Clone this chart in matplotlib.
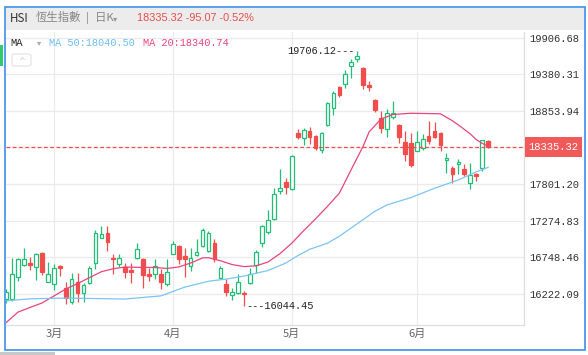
import matplotlib
matplotlib.use("Agg")
import matplotlib.pyplot as plt
from matplotlib.patches import Rectangle, FancyBboxPatch
from matplotlib.transforms import blended_transform_factory

# HSI daily candles, 2024-02-20 .. 2024-06-20
dates = (
    ["2024-02-%02d" % d for d in [20, 21, 22, 23, 26, 27, 28, 29]]
    + ["2024-03-%02d" % d for d in [1, 4, 5, 6, 7, 8, 11, 12, 13, 14, 15, 18, 19, 20, 21, 22, 25, 26, 27, 28]]
    + ["2024-04-%02d" % d for d in [2, 3, 5, 8, 9, 10, 11, 12, 15, 16, 17, 18, 19, 22, 23, 24, 25, 26, 29, 30]]
    + ["2024-05-%02d" % d for d in [2, 3, 6, 7, 8, 9, 10, 13, 14, 16, 17, 20, 21, 22, 23, 24, 27, 28, 29, 30, 31]]
    + ["2024-06-%02d" % d for d in [3, 4, 5, 6, 7, 11, 12, 13, 14, 17, 18, 19, 20]]
)
opens = [16150, 16151, 16468, 16640, 16669, 16611, 16813, 16396,
         16367, 16626, 16309, 16108, 16396, 16237, 16381, 16669, 17029, 17100, 16741, 16655,
         16611, 16565, 16741, 16727, 16511, 16511, 16511, 16367,
         16799, 16914, 16770, 16626, 16784, 16914, 16842, 16957, 16453, 16367,
         16208, 16237, 16240, 16381, 16640, 16957, 17115, 17302, 17705, 17835,
         17734, 18539, 18468, 18568, 18496, 18295, 18655, 18899, 19202, 19245, 19504,
         19605, 19475, 19230, 19014, 18755, 18597, 18770, 18655, 18410, 18396,
         18281, 18324, 18496, 18568, 18539, 18140, 18036, 18094, 18022, 17820, 17950, 18036, 18424]
highs = [16290, 16741, 16741, 16885, 16755, 16813, 16827, 16684,
         16655, 16640, 16396, 16525, 16525, 16381, 16626, 17143, 17201, 17201, 16799, 16799,
         16669, 16669, 16957, 16741, 16597, 16727, 16583, 16727,
         16986, 16928, 16885, 16885, 17014, 17172, 17129, 17014, 16626, 16439,
         16309, 16511, 16260, 16597, 16850, 17215, 17431, 17748, 18022, 17892,
         18220, 18597, 18600, 18626, 18510, 18550, 18986, 19144, 19216, 19446, 19604,
         19706.12, 19489, 19288, 19029, 18856, 18885, 18999, 18669, 18560, 18540,
         18568, 18525, 18712, 18698, 18554, 18252, 18065, 18166, 18094, 18108, 17964, 18439, 18439]
lows = [16090, 16122, 16410, 16626, 16569, 16424, 16496, 16390,
        16280, 16482, 16079, 16079, 16108, 16108, 16367, 16583, 17020, 16842, 16511, 16611,
        16453, 16381, 16727, 16309, 16410, 16439, 16295, 16338,
        16790, 16655, 16467, 16553, 16770, 16900, 16830, 16683, 16439, 16194,
        16137, 16223, 16044.45, 16370, 16525, 16899, 17086, 17290, 17662, 17662,
        17720, 18453, 18367, 18381, 18295, 18252, 18640, 18799, 19058, 19187, 19331,
        19561, 19173, 19144, 18842, 18540, 18482, 18741, 18396, 18137, 18050,
        18270, 18295, 18381, 18460, 18281, 17964, 17820, 17950, 17921, 17734, 17849, 17993, 18324]
closes = [16247.51, 16503.10, 16720.00, 16725.86, 16634.74, 16790.80, 16536.85, 16511.44,
          16589.44, 16595.97, 16162.64, 16438.09, 16229.78, 16353.39, 16587.56, 17093.50, 17082.11,
          16961.72, 16720.89, 16737.12, 16529.48, 16543.07, 16863.10, 16499.47, 16473.64, 16618.32,
          16392.84, 16541.42,
          16931.52, 16725.10, 16723.92, 16732.85, 16828.93, 17139.17, 17095.03, 16721.69, 16600.46,
          16248.97, 16251.84, 16385.87, 16224.45, 16511.69, 16828.93, 17201.27, 17284.54, 17651.15,
          17746.91, 17763.03,
          18207.13, 18475.92, 18578.30, 18479.37, 18313.86, 18537.81, 18963.68, 19115.06, 19073.71,
          19376.53, 19553.61, 19636.22, 19220.62, 19195.60, 18868.71, 18608.94, 18827.35, 18821.16,
          18477.01, 18230.19, 18079.61,
          18403.04, 18444.11, 18424.96, 18475.38, 18366.95, 18176.34, 17937.84, 18112.63, 17941.78,
          17936.12, 17915.55, 18430.39, 18335.32]

# moving averages (candle index -> value)
ma20_idx = [0, 2, 4, 6, 8, 10, 12, 14, 16, 18, 20, 22, 25, 27, 29, 31, 33, 34, 36, 38, 40, 42,
            44, 46, 48, 50, 52, 54, 56, 58, 60, 61, 63, 65, 68, 73, 75, 76, 78, 79, 80, 81]
ma20_val = [15810, 15960, 16026, 16090, 16190, 16290, 16370, 16455, 16540, 16583, 16608, 16603,
            16601, 16587, 16608, 16665, 16738, 16741, 16698, 16642, 16614, 16624, 16680, 16799,
            16950, 17130, 17300, 17480, 17670, 18010, 18345, 18550, 18735, 18800, 18818, 18810,
            18710, 18650, 18521, 18440, 18386, 18340.74]
ma50_idx = [0, 4, 10, 20, 24, 26, 28, 30, 34, 37, 40, 44, 47, 49, 51, 54, 56, 62, 64, 68, 72,
            76, 79, 81]
ma50_val = [16122, 16150, 16161, 16147, 16178, 16192, 16256, 16318, 16403, 16434, 16478, 16557,
            16665, 16770, 16862, 16950, 17050, 17410, 17500, 17605, 17740, 17860, 17975, 18040.50]

ytick_vals = [16222.09, 16748.46, 17274.83, 17801.20, 18327.57, 18853.94, 19380.31, 19906.68]
ytick_labels = ["16222.09", "16748.46", "17274.83", "17801.20", "", "18853.94", "19380.31", "19906.68"]

GREEN = "#1fbf75"
RED = "#f24d4d"
MA20_C = "#e8457c"
MA50_C = "#7cc4f4"
GRID = "#ebebeb"
CJK = ["Noto Sans CJK TC", "DejaVu Sans"]
MONO = "Liberation Mono"

W, H = 588, 355
fig = plt.figure(figsize=(W / 100, H / 100), dpi=100)
fig.patch.set_facecolor("white")


def fx(x):
    return x / W


def fy(y):
    return 1 - y / H


# header band and blue frame
fig.patches.append(Rectangle((fx(6), fy(30)), fx(578), 22 / H, transform=fig.transFigure,
                             facecolor="#ececec", edgecolor="none", zorder=0))
fig.patches.append(Rectangle((fx(5), fy(350)), fx(580), 343 / H, transform=fig.transFigure,
                             fill=False, edgecolor="#3d8fe6", linewidth=1.2, zorder=10))
fig.patches.append(Rectangle((0, fy(66)), fx(3), 21 / H, transform=fig.transFigure,
                             facecolor="#2ecc71", edgecolor="none"))
fig.patches.append(Rectangle((0, 0), fx(55), 3 / H, transform=fig.transFigure,
                             facecolor="#c8c8c8", edgecolor="none"))

ax = fig.add_axes([fx(6), fy(325), fx(518), 293 / H])
ax.set_facecolor("white")

n = len(closes)
xs = list(range(n))
up = [c >= o for o, c in zip(opens, closes)]

for i in xs:
    col = GREEN if up[i] else RED
    ax.vlines(i, lows[i], highs[i], color=col, linewidth=0.9, zorder=2)
    lo, hi = min(opens[i], closes[i]), max(opens[i], closes[i])
    hgt = max(hi - lo, 12)
    ax.bar(i, hgt, bottom=lo, width=0.62, facecolor="white" if up[i] else RED,
           edgecolor=col, linewidth=0.9, zorder=3)

ax.plot(ma20_idx, ma20_val, color=MA20_C, linewidth=0.9, zorder=4)
ax.plot(ma50_idx, ma50_val, color=MA50_C, linewidth=0.9, zorder=4)

last = closes[-1]
ax.axhline(last, color=RED, linewidth=0.9, linestyle=(0, (3, 2)), zorder=5)

ymin, ymax = 15774, 19986
ax.set_xlim(-0.034, 87.03)
ax.set_ylim(ymin, ymax)
upp = (ymax - ymin) / 293.0  # price units per pixel

# month ticks
month_pos, month_lab = [], []
for i in range(1, n):
    if dates[i][5:7] != dates[i - 1][5:7]:
        month_pos.append(i)
        month_lab.append("%d月" % int(dates[i][5:7]))
ax.set_xticks(month_pos)
ax.set_xticklabels(month_lab, family=CJK, fontsize=8, color="#666666")
ax.set_yticks(ytick_vals)
ax.set_yticklabels(ytick_labels, family=MONO, fontsize=7.6, color="#333333")
ax.yaxis.tick_right()
ax.tick_params(axis="both", length=0)
ax.tick_params(axis="y", pad=4)
ax.tick_params(axis="x", pad=2.5)
ax.grid(True, color=GRID, linewidth=0.9)
ax.set_axisbelow(True)
for s in ["left", "top"]:
    ax.spines[s].set_visible(False)
for s in ["right", "bottom"]:
    ax.spines[s].set_color("#dedede")
    ax.spines[s].set_linewidth(0.9)

# price tag on the right axis
bt = blended_transform_factory(ax.transAxes, ax.transData)
ax.add_patch(Rectangle((1 + 1 / 518, last - 10 * upp), 57 / 518, 20 * upp, transform=bt,
                       facecolor="#f25a5a", edgecolor="none", clip_on=False, zorder=6))
ax.text(1 + 4 / 518, last, "%.2f" % last, transform=bt, family=MONO, fontsize=7.6,
        color="white", va="center", ha="left", zorder=7)

# high / low markers
i_hi = highs.index(max(highs))
i_lo = lows.index(min(lows))
ax.text(i_hi - 0.5, highs[i_hi], "%.2f---" % highs[i_hi], family=MONO, fontsize=7.4,
        color="#222222", va="center", ha="right", zorder=7)
ax.text(i_lo + 0.4, lows[i_lo], "---%.2f" % lows[i_lo], family=MONO, fontsize=7.4,
        color="#222222", va="center", ha="left", zorder=7)

# header texts
fig.text(fx(10), fy(18), "HSI", family=CJK, fontsize=8.4, color="#333333", va="center")
fig.text(fx(36), fy(18), "恆生指數", family=CJK, fontsize=8.2, color="#888888", va="center")
fig.text(fx(86), fy(18), "|", family=CJK, fontsize=8.2, color="#888888", va="center")
fig.text(fx(95), fy(18), "日K", family=CJK, fontsize=8.2, color="#888888", va="center")
fig.text(fx(113), fy(19), "▾", family="DejaVu Sans", fontsize=6, color="#999999", va="center")
chg = last - closes[-2]
fig.text(fx(137), fy(18), "%.2f %.2f %.2f%%" % (last, chg, chg / closes[-2] * 100),
         family="Liberation Sans", fontsize=7.8, color="#e84c4c", va="center")

fig.text(fx(10), fy(43), "MA", family=MONO, fontsize=7.6, color="#222222", va="center")
fig.text(fx(37), fy(43), "▾", family="DejaVu Sans", fontsize=6, color="#aaaaaa", va="center")
fig.text(fx(49), fy(43), "MA 50:%.2f" % ma50_val[-1], family=MONO, fontsize=7.4,
         color="#6cbcf2", va="center")
fig.text(fx(143), fy(43), "MA 20:%.2f" % ma20_val[-1], family=MONO, fontsize=7.4,
         color=MA20_C, va="center")

fig.patches.append(FancyBboxPatch((fx(12), fy(66)), fx(19), 12 / H, transform=fig.transFigure,
                                  boxstyle="round,pad=0,rounding_size=0.005",
                                  facecolor="white", edgecolor="#e2e2e2", linewidth=0.8))
fig.text(fx(21.5), fy(61), "^", family="DejaVu Sans", fontsize=6, color="#cccccc",
         va="center", ha="center")

fig.savefig("out.png", dpi=100)
